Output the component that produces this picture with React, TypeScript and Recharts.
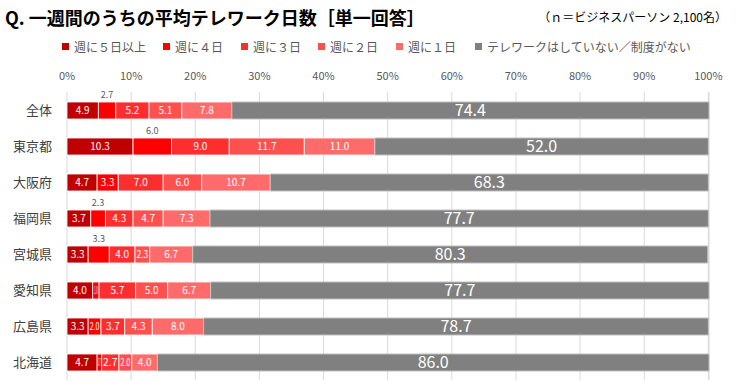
import React from "react";
import { Bar, BarChart, CartesianGrid, LabelList, XAxis, YAxis } from "recharts";

const regions = ["全体", "東京都", "大阪府", "福岡県", "宮城県", "愛知県", "広島県", "北海道"];
const days5 = [4.9, 10.3, 4.7, 3.7, 3.3, 4.0, 3.3, 4.7];
const days4 = [2.7, 6.0, 3.3, 2.3, 3.3, 1.0, 2.0, 0.7];
const days3 = [5.2, 9.0, 7.0, 4.3, 4.0, 5.7, 3.7, 2.7];
const days2 = [5.1, 11.7, 6.0, 4.7, 2.3, 5.0, 4.3, 2.0];
const days1 = [7.8, 11.0, 10.7, 7.3, 6.7, 6.7, 8.0, 4.0];
const none = [74.4, 52.0, 68.3, 77.7, 80.3, 77.7, 78.7, 86.0];
const xTicks = [0, 10, 20, 30, 40, 50, 60, 70, 80, 90, 100];

// rows where the 週に４日 label sits above the bar
const aboveRows = [0, 1, 3, 4];

const series = [
  { key: "d5", name: "週に５日以上", color: "#C00000", values: days5 },
  { key: "d4", name: "週に４日", color: "#FF0000", values: days4 },
  { key: "d3", name: "週に３日", color: "#FF2E2E", values: days3 },
  { key: "d2", name: "週に２日", color: "#FF5050", values: days2 },
  { key: "d1", name: "週に１日", color: "#FF6B6B", values: days1 },
  { key: "none", name: "テレワークはしていない／制度がない", color: "#808080", values: none },
];
const legendLeft = [62, 163, 241, 318, 396, 475];

const data = regions.map((name, i) => {
  const row: any = { name };
  series.forEach((s) => (row[s.key] = s.values[i]));
  return row;
});

const FONT = "'Noto Sans CJK JP', 'Noto Sans', sans-serif";

const makeLabel = (key: string) => (props: any) => {
  const { x, y, width, height, value, index } = props;
  const cx = x + width / 2;
  const txt = Number(value).toFixed(1);
  if (key === "none") {
    return (
      <text x={cx} y={y + height / 2 + 1} fill="#fff" fontSize={16} textAnchor="middle" dominantBaseline="middle" fontFamily={FONT}>
        {txt}
      </text>
    );
  }
  if (key === "d4" && aboveRows.includes(index)) {
    return (
      <text x={cx} y={y - 4} fill="#595959" fontSize={9} textAnchor="middle" fontFamily={FONT}>
        {txt}
      </text>
    );
  }
  // squeeze labels that don't fit their segment
  const natural = txt.length * 5.6;
  const squeeze = natural > width - 3 ? { textLength: Math.max(width - 3, 2.5), lengthAdjust: "spacingAndGlyphs" } : {};
  return (
    <text x={cx} y={y + height / 2 + 1} fill="#fff" fontSize={10} textAnchor="middle" dominantBaseline="middle" fontFamily={FONT} {...(squeeze as any)}>
      {txt}
    </text>
  );
};

export default function App() {
  return (
    <div style={{ position: "absolute", left: 0, top: 0, width: 737, height: 382, background: "#fff", fontFamily: FONT }}>
      <div style={{ position: "absolute", left: 5, top: 4, fontSize: 18, fontWeight: "bold", color: "#000", whiteSpace: "nowrap" }}>
        Q. 一週間のうちの平均テレワーク日数［単一回答］
      </div>
      <div style={{ position: "absolute", right: 10, top: 8, fontSize: 12, color: "#000", whiteSpace: "nowrap" }}>
        （ｎ＝ビジネスパーソン 2,100名）
      </div>
      {series.map((s, i) => (
        <div
          key={s.key}
          style={{ position: "absolute", left: legendLeft[i], top: 38, display: "flex", alignItems: "center", fontSize: 12, color: "#595959", whiteSpace: "nowrap" }}
        >
          <span style={{ width: 7, height: 7, background: s.color, marginRight: 5, display: "inline-block" }} />
          <span>{s.name}</span>
        </div>
      ))}
      <div style={{ position: "absolute", left: 0, top: 0 }}>
        <BarChart width={737} height={382} data={data} layout="vertical" margin={{ top: 62, right: 28, bottom: 2, left: 0 }} barSize={17}>
          <CartesianGrid horizontal={false} stroke="#d9d9d9" />
          <XAxis
            type="number"
            orientation="top"
            domain={[0, 100]}
            ticks={xTicks}
            tickFormatter={(v) => `${v}%`}
            axisLine={false}
            tickLine={false}
            tickMargin={6}
            height={30}
            tick={{ fontSize: 11, fill: "#595959", fontFamily: FONT }}
            interval={0}
          />
          <YAxis
            type="category"
            dataKey="name"
            width={67}
            axisLine={false}
            tickLine={false}
            tickMargin={9}
            tick={{ fontSize: 13, fill: "#404040", fontFamily: FONT }}
          />
          {series.map((s) => (
            <Bar
              key={s.key}
              dataKey={s.key}
              name={s.name}
              stackId="a"
              fill={s.color}
              stroke={s.key === "none" ? "#bfbfbf" : "#ffffff"}
              strokeWidth={s.key === "none" ? 1 : 0.8}
              isAnimationActive={false}
            >
              <LabelList dataKey={s.key} content={makeLabel(s.key)} />
            </Bar>
          ))}
        </BarChart>
      </div>
    </div>
  );
}
